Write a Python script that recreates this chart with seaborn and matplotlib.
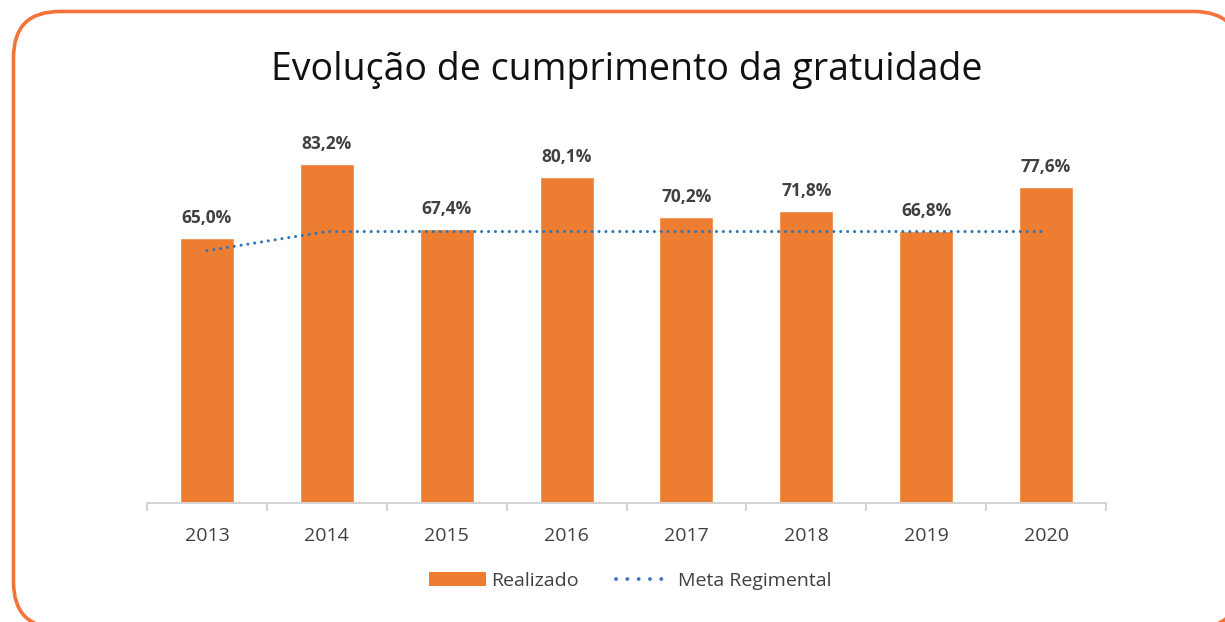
import matplotlib
matplotlib.use("Agg")
import matplotlib.pyplot as plt
import seaborn as sns
import pandas as pd
from matplotlib.patches import FancyBboxPatch, Patch
from matplotlib.lines import Line2D
from matplotlib.transforms import IdentityTransform

anos = ["2013", "2014", "2015", "2016", "2017", "2018", "2019", "2020"]
realizado = [65.0, 83.2, 67.4, 80.1, 70.2, 71.8, 66.8, 77.6]
meta_regimental = [62.0, 66.7, 66.7, 66.7, 66.7, 66.7, 66.7, 66.7]

sns.set_theme(style="white")
plt.rcParams["font.family"] = ["Open Sans", "DejaVu Sans"]

df = pd.DataFrame({"Ano": anos, "Realizado": realizado, "Meta": meta_regimental})

W, H = 1225, 622
fig = plt.figure(figsize=(W / 100, H / 100), dpi=100)

# rounded frame drawn in pixel units (origin bottom-left); filled so the
# outline is not cut where it runs past the canvas edge
frame = FancyBboxPatch((13.5, -6), 1240 - 13.5, (H - 11.5) + 6,
                       boxstyle="round,pad=0,rounding_size=46",
                       transform=IdentityTransform(),
                       facecolor="white", edgecolor="#F4733A", linewidth=2.6,
                       zorder=-5)
fig.patches.append(frame)

ax = fig.add_axes([0.12, 0.1913, 0.7829, 0.5889])
ax.patch.set_alpha(0)

orange = "#ED7D31"
blue = "#2E75B6"

sns.barplot(data=df, x="Ano", y="Realizado", color=orange, width=0.45,
            saturation=1, ax=ax, zorder=2)
sns.lineplot(data=df, x="Ano", y="Meta", color=blue, linestyle=(0, (0.01, 2.25)),
             linewidth=2.2, ax=ax, zorder=3, sort=False)
for ln in ax.get_lines():
    ln.set_dash_capstyle("round")

for i, v in enumerate(realizado):
    ax.annotate(f"{v:.1f}%".replace(".", ","), (i, v), xytext=(0, 8),
                textcoords="offset points", ha="center", va="bottom",
                fontsize=12.5, fontweight="bold", color="#404040")

ax.set_xlim(-0.5, len(anos) - 0.5)
ax.set_ylim(0, 90)
ax.set_xlabel("")
ax.set_ylabel("")
ax.set_yticks([])
for s in ["top", "right", "left"]:
    ax.spines[s].set_visible(False)
ax.spines["bottom"].set_color("#D4D4D4")
ax.spines["bottom"].set_linewidth(1.5)

# tick marks at category boundaries
ax.set_xticks(range(len(anos)))
ax.set_xticklabels(anos, fontsize=14, color="#404040")
ax.tick_params(axis="x", length=0, pad=17)
for b in [i - 0.5 for i in range(len(anos) + 1)]:
    ax.plot([b, b], [0, -2.0], color="#D4D4D4", lw=1.5, clip_on=False, zorder=1,
            solid_capstyle="butt")

fig.text(0.5114, 0.888, "Evolução de cumprimento da gratuidade", ha="center",
         va="center", fontsize=27, color="#111111")

handles = [Patch(facecolor=orange, edgecolor="none", label="Realizado"),
           Line2D([0], [0], color="#4472C4", linestyle=(0, (0.01, 2.9)), linewidth=2.8,
                  dash_capstyle="round", label="Meta Regimental")]
fig.legend(handles=handles, loc="center", bbox_to_anchor=(0.5147, 0.066), ncol=2,
           frameon=False, fontsize=14, handlelength=2.9, handleheight=0.7,
           columnspacing=1.9, handletextpad=0.3, labelcolor="#404040")

fig.savefig("out.png", dpi=100)
